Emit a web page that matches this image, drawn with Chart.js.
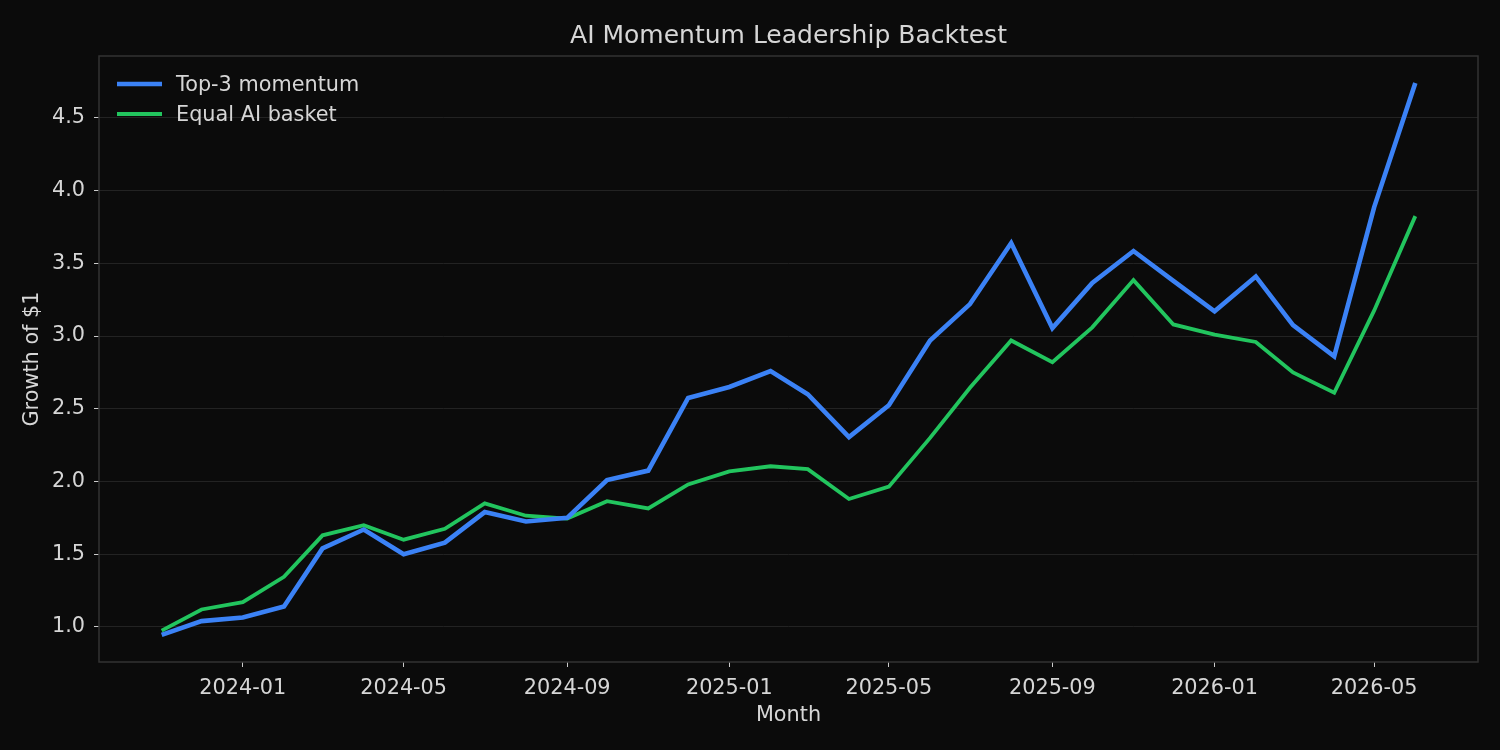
<!DOCTYPE html>
<html>
<head>
<meta charset="utf-8">
<title>AI Momentum Leadership Backtest</title>
<script src="https://cdn.jsdelivr.net/npm/chart.js@4"></script>
<style>
  html, body { margin: 0; padding: 0; background: #0b0b0b; }
  #wrap { width: 1500px; height: 750px; }
</style>
</head>
<body>
<div id="wrap"><canvas id="line-chart"></canvas></div>
<script>
// monthly points
var months = [
    '2023-11', '2023-12',
    '2024-01', '2024-02', '2024-03', '2024-04', '2024-05', '2024-06',
    '2024-07', '2024-08', '2024-09', '2024-10', '2024-11', '2024-12',
    '2025-01', '2025-02', '2025-03', '2025-04', '2025-05', '2025-06',
    '2025-07', '2025-08', '2025-09', '2025-10', '2025-11', '2025-12',
    '2026-01', '2026-02', '2026-03', '2026-04', '2026-05', '2026-06'
];

var topMomentum = [
    0.945, 1.04,
    1.065, 1.14, 1.54, 1.67, 1.50, 1.58,
    1.79, 1.725, 1.75, 2.01, 2.075, 2.575,
    2.65, 2.76, 2.60, 2.305, 2.525, 2.97,
    3.22, 3.64, 3.055, 3.365, 3.585, 3.38,
    3.17, 3.41, 3.075, 2.86, 3.885, 4.74
];

var equalBasket = [
    0.975, 1.12,
    1.17, 1.345, 1.63, 1.70, 1.60, 1.675,
    1.85, 1.765, 1.745, 1.865, 1.815, 1.98,
    2.07, 2.105, 2.085, 1.88, 1.965, 2.30,
    2.645, 2.97, 2.82, 3.06, 3.385, 3.08,
    3.01, 2.96, 2.75, 2.61, 3.175, 3.825
];

var xTickLabels = ['2024-01', '2024-05', '2024-09', '2025-01', '2025-05', '2025-09', '2026-01', '2026-05'];
var yTicks = [1.0, 1.5, 2.0, 2.5, 3.0, 3.5, 4.0, 4.5];

var seriesNames = ['Top-3 momentum', 'Equal AI basket'];
var seriesColors = ['#3b82f6', '#22c55e'];

function toTime(ym) {
    var p = ym.split('-');
    return Date.UTC(+p[0], +p[1] - 1, 1);
}

function fmtMonth(t) {
    var d = new Date(t);
    var m = d.getUTCMonth() + 1;
    return d.getUTCFullYear() + '-' + (m < 10 ? '0' + m : m);
}

var xFirst = toTime(months[0]);
var xLast = toTime(months[months.length - 1]);
var xPad = (xLast - xFirst) * 0.05;

function points(values) {
    return values.map(function (v, i) {
        return { x: toTime(months[i]), y: v };
    });
}

var textColor = '#d6d6d6';
var fontFamily = "'DejaVu Sans', sans-serif";

// full frame around the plot area
var frame = {
    id: 'frame',
    afterDraw: function (chart) {
        var a = chart.chartArea, c = chart.ctx;
        c.save();
        c.strokeStyle = '#333333';
        c.lineWidth = 1.5;
        c.strokeRect(a.left, a.top, a.right - a.left, a.bottom - a.top);
        c.restore();
    }
};

var background = {
    id: 'background',
    beforeDraw: function (chart) {
        var c = chart.ctx;
        c.save();
        c.fillStyle = '#0b0b0b';
        c.fillRect(0, 0, chart.width, chart.height);
        c.restore();
    }
};

// legend inside the plot, top-left, line samples
var insideLegend = {
    id: 'insideLegend',
    afterDatasetsDraw: function (chart) {
        var a = chart.chartArea, c = chart.ctx;
        c.save();
        c.font = '20.8px ' + fontFamily;
        c.textBaseline = 'middle';
        c.textAlign = 'left';
        chart.data.datasets.forEach(function (ds, i) {
            var y = a.top + 28 + i * 30;
            c.strokeStyle = ds.borderColor;
            c.lineWidth = ds.borderWidth;
            c.beginPath();
            c.moveTo(a.left + 18, y);
            c.lineTo(a.left + 63, y);
            c.stroke();
            c.fillStyle = textColor;
            c.fillText(ds.label, a.left + 77, y + 2);
        });
        c.restore();
    }
};

var ctx = document.getElementById('line-chart').getContext('2d');
var chart = new Chart(ctx, {
    type: 'line',
    data: {
        datasets: [
            {
                label: seriesNames[0],
                data: points(topMomentum),
                borderColor: seriesColors[0],
                backgroundColor: seriesColors[0],
                borderWidth: 4.6,
                pointRadius: 0,
                tension: 0,
                order: 1
            },
            {
                label: seriesNames[1],
                data: points(equalBasket),
                borderColor: seriesColors[1],
                backgroundColor: seriesColors[1],
                borderWidth: 3.8,
                pointRadius: 0,
                tension: 0,
                order: 2
            }
        ]
    },
    options: {
        responsive: true,
        maintainAspectRatio: false,
        animation: false,
        layout: { padding: { left: 0, right: 22, top: 0, bottom: 0 } },
        plugins: {
            title: {
                display: true,
                fullSize: false,
                text: 'AI Momentum Leadership Backtest',
                color: textColor,
                font: { family: fontFamily, size: 25, weight: 'normal' },
                padding: { top: 21, bottom: 5 }
            },
            legend: { display: false },
            tooltip: { enabled: false }
        },
        scales: {
            x: {
                type: 'linear',
                min: xFirst - xPad,
                max: xLast + xPad,
                afterBuildTicks: function (scale) {
                    scale.ticks = xTickLabels.map(function (l) { return { value: toTime(l) }; });
                },
                afterFit: function (scale) { scale.height = 88; },
                ticks: {
                    color: textColor,
                    font: { family: fontFamily, size: 20.8 },
                    padding: 9,
                    maxRotation: 0,
                    autoSkip: false,
                    callback: function (v) { return fmtMonth(v); }
                },
                grid: {
                    drawOnChartArea: false,
                    drawTicks: true,
                    tickLength: 5,
                    tickColor: '#cccccc'
                },
                border: { display: false },
                title: {
                    display: true,
                    text: 'Month',
                    color: textColor,
                    font: { family: fontFamily, size: 20.8 },
                    padding: { top: 4, bottom: 22 }
                }
            },
            y: {
                type: 'linear',
                min: 0.759,
                max: 4.926,
                afterBuildTicks: function (scale) {
                    scale.ticks = yTicks.map(function (v) { return { value: v }; });
                },
                afterFit: function (scale) { scale.width = 99; },
                ticks: {
                    color: textColor,
                    font: { family: fontFamily, size: 20.8 },
                    padding: 9,
                    callback: function (v) { return v.toFixed(1); }
                },
                grid: {
                    color: '#232323',
                    lineWidth: 1,
                    drawTicks: true,
                    tickLength: 5,
                    tickColor: '#cccccc'
                },
                border: { display: false },
                title: {
                    display: true,
                    text: 'Growth of $1',
                    color: textColor,
                    font: { family: fontFamily, size: 20.8 },
                    padding: { top: 20, bottom: 0 }
                }
            }
        }
    },
    plugins: [background, frame, insideLegend]
});
</script>
</body>
</html>
